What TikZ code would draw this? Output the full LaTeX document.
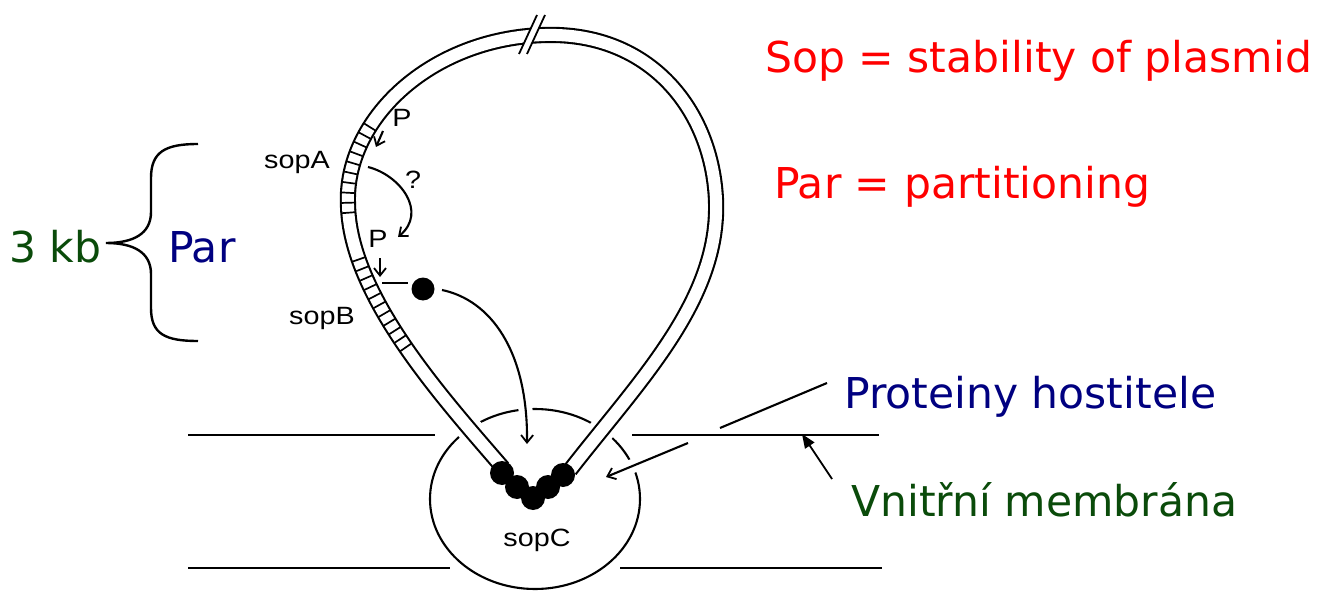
\documentclass[tikz,border=0pt]{standalone}
\usepackage{fontspec}
\setmainfont{DejaVu Sans}
\newfontfamily\labfont[FakeStretch=1.15]{Liberation Sans}
\usetikzlibrary{arrows.meta,decorations.markings}
\definecolor{txtred}{RGB}{255,0,0}
\definecolor{txtblue}{RGB}{0,0,128}
\definecolor{txtgreen}{RGB}{10,75,10}
\def\tubepath{(503,468) .. controls (440,395) and (350,295) .. (348,205)
  .. controls (344,120) and (430,38) .. (545,35)
  .. controls (650,32) and (712,110) .. (716,200)
  .. controls (720,300) and (640,380) .. (570,470)}
\begin{document}
\begin{tikzpicture}[x=1pt,y=-1pt,
  ln/.style={line width=2.1pt},
  big/.style={font=\fontsize{42.5}{50}\selectfont, inner sep=0pt, anchor=base west},
  lab/.style={font=\labfont\fontsize{25}{29}\selectfont, inner sep=0pt, anchor=base},
  barb/.style={-{Straight Barb[length=7.5pt,width=12pt,line width=1.8pt]}},
  rung/.style={line width=1.7pt}
]
\useasboundingbox (0,0) rectangle (1326,591);
\fill[white] (0,0) rectangle (1326,591);

% sopC region and membranes
\draw[ln] (535,499) ellipse [x radius=105, y radius=90];
\draw[ln] (188,435) -- (435,435);
\draw[ln] (632,435) -- (879,435);
\draw[ln] (188,568) -- (450,568);
\draw[ln] (620,568) -- (882,568);

% named end points
\coordinate (aS) at (368,167);
\coordinate (aE) at (398,237);
\coordinate (p1s) at (383,131);
\coordinate (p1e) at (376,147);
\coordinate (p2s) at (380,258);
\coordinate (p2e) at (380,277);
\coordinate (bl1) at (382,283);
\coordinate (bl2) at (408,283);
\coordinate (dS) at (442,290);
\coordinate (dE) at (527,444);
\coordinate (prS) at (688,443);
\coordinate (prE) at (606,477);
\coordinate (pl1) at (720,428);
\coordinate (pl2) at (827,383);
\coordinate (vS) at (832,479);
\coordinate (vE) at (802,434);

% white halos (gaps in the sopC circle)
\draw[white, line width=26pt] \tubepath;
\draw[white, line width=14pt] (dS) .. controls (490,300) and (528,350) .. (dE);
\draw[white, line width=14pt] (prS) -- (prE);

% plasmid tube
\draw[line width=2.1pt, double=white, double distance=12pt] \tubepath;
\path[postaction={decorate}, decoration={markings,
  mark=between positions 155pt and 257pt step 10pt with {\draw[rung] (0pt,-6.5pt) -- (0pt,6.5pt);},
  mark=between positions 303pt and 401pt step 10pt with {\draw[rung] (0pt,-6.5pt) -- (0pt,6.5pt);}}]
  \tubepath;

% break mark
\fill[white] (519,54) -- (537,15) -- (545,15) -- (527,54) -- cycle;
\draw[line width=1.8pt] (519,54) -- (537,15);
\draw[line width=1.8pt] (527,54) -- (545,15);

% sopC bound proteins
\foreach \px/\py in {502/473, 517/487, 533/498, 548/487, 563/475}
  \fill (\px,\py) circle[radius=12pt];

% arrows and lines
\draw[ln, barb] (aS) .. controls (400,175) and (428,212) .. (aE);
\draw[ln, barb] (p1s) -- (p1e);
\draw[ln, barb] (p2s) -- (p2e);
\draw[ln] (bl1) -- (bl2);
\fill (423,289) circle[radius=11.5pt];
\draw[ln, barb] (dS) .. controls (490,300) and (528,350) .. (dE);
\draw[ln, barb] (prS) -- (prE);
\draw[ln] (pl1) -- (pl2);
\draw[line width=1.8pt, -{Triangle[length=14pt,width=11pt]}] (vS) -- (vE);

% brace
\draw[line width=2.4pt] (198,144) .. controls (165,144) and (151,152) .. (151,178) -- (151,212)
  .. controls (151,234) and (133,243) .. (106,243)
  .. controls (133,243) and (151,252) .. (151,274) -- (151,308)
  .. controls (151,334) and (165,341) .. (198,341);

% diagram labels
\node[lab] (sopA) at (297,168) {sopA};
\node[lab] (sopB) at (322,324) {sopB};
\node[lab] (sopC) at (537,546) {sopC};
\node[lab] (P1) at (402,127) {P};
\node[lab] (P2) at (378,247) {P};
\node[lab] (q) at (413,189) {?};

% annotations
\node[big, text=txtred] (sop) at (765,73) {Sop = stability of plasmid};
\node[big, text=txtred] (par) at (774,199) {Par = partitioning};
\node[big, text=txtgreen] (kb) at (9,262) {3 kb};
\node[big, text=txtblue] (parL) at (168,262) {Par};
\node[big, text=txtblue] (prot) at (844,408) {Proteiny hostitele};
\node[big, text=txtgreen] (vnit) at (851,516) {Vnitřní membrána};
\end{tikzpicture}
\end{document}
